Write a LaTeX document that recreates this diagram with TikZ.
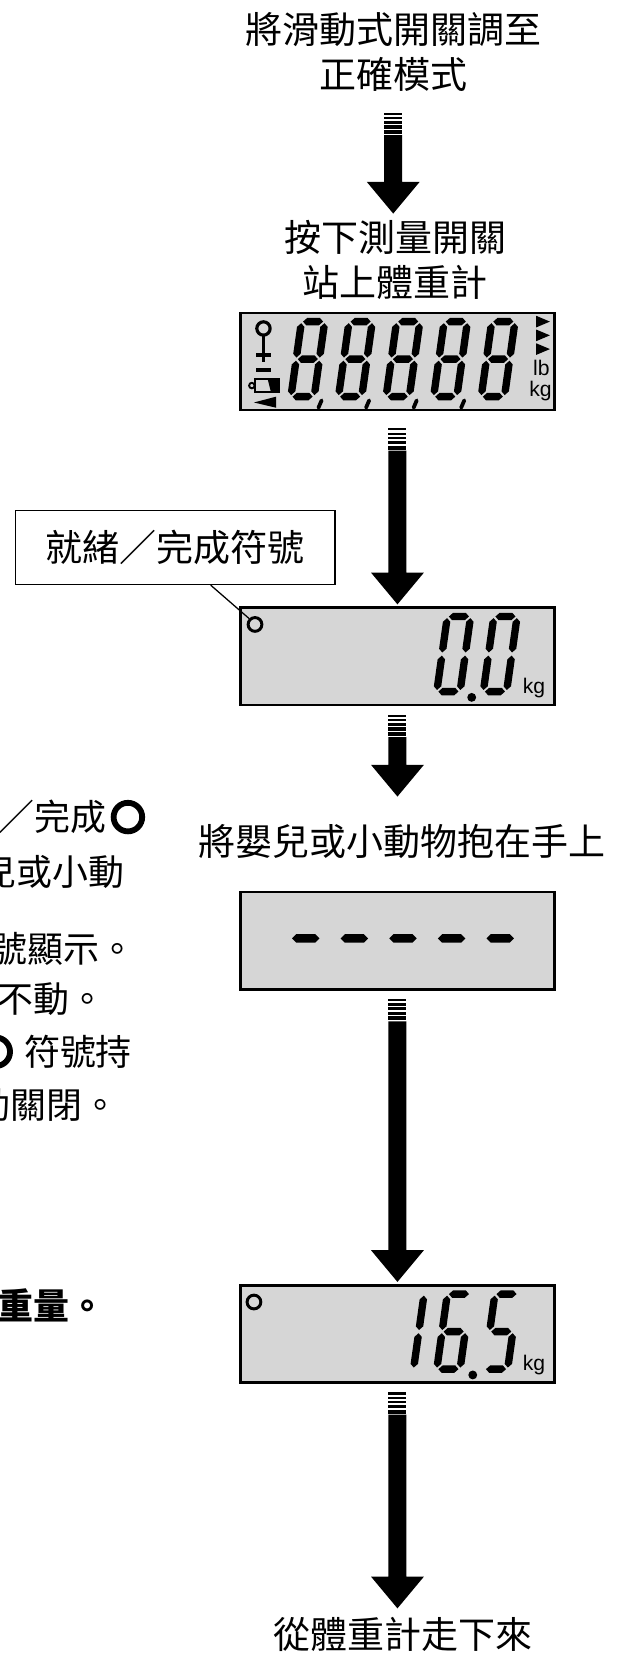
\documentclass[tikz,border=0pt]{standalone}
\usepackage{fontspec}
\newfontfamily\cjk{Noto Sans CJK TC}
\newfontfamily\lcdfont{Liberation Sans}
\usetikzlibrary{calc}
\definecolor{lcdgray}{RGB}{214,214,214}

% seven segment pieces, local units with y upwards
\newcommand\hseg[3]{\fill (#1,#3) -- ({#1+3.5},{#3+3.5}) -- ({#2-3.5},{#3+3.5}) -- (#2,#3) -- ({#2-3.5},{#3-3.5}) -- ({#1+3.5},{#3-3.5}) -- cycle;}
\newcommand\vseg[3]{\fill (#1,#2) -- ({#1+3.5},{#2+3.5}) -- ({#1+3.5},{#3-3.5}) -- (#1,#3) -- ({#1-3.5},{#3-3.5}) -- ({#1-3.5},{#2+3.5}) -- cycle;}
\newcommand\sgA{\hseg{5}{24}{74.5}}
\newcommand\sgB{\vseg{25.5}{40.5}{73}}
\newcommand\sgC{\vseg{25.5}{5}{37.5}}
\newcommand\sgD{\hseg{5}{24}{3.5}}
\newcommand\sgE{\vseg{3.5}{5}{37.5}}
\newcommand\sgF{\vseg{3.5}{40.5}{73}}
\newcommand\sgG{\hseg{5}{24}{39}}
\newcommand\lcddigit[3]{%
  \begin{scope}[shift={(#1,#2)},x=1pt,y=1pt,xslant=0.14]
    \foreach \s in {#3} {\csname sg\s\endcsname}
  \end{scope}}

% thick arrow with striped tail
\newcommand\flowarrow[2]{%
  \path[fill=black] let \p1=#1, \p2=#2 in
    (\x1-8.5pt,\y1-21pt) rectangle (\x1+8.5pt,\y2+30pt)
    (\x1-25pt,\y2+30pt) -- (\x1,\y2) -- (\x1+25pt,\y2+30pt) -- cycle;
  \foreach \a/\b in {0/2,4/6,7.8/10.3,11.8/15,16.3/20}
    {\path[fill=black] let \p1=#1 in (\x1-8.5pt,\y1-\a*1pt) rectangle (\x1+8.5pt,\y1-\b*1pt);}}

\tikzset{
  lcdbox/.style={draw=black, line width=2.5pt, fill=lcdgray, minimum width=297pt, minimum height=92pt, inner sep=0pt},
  caption/.style={font=\cjk\fontsize{35}{43}\selectfont, align=center, inner sep=0pt},
  labelbox/.style={draw=black, line width=1.2pt, minimum width=302pt, minimum height=70pt, inner sep=0pt, font=\cjk\fontsize{35}{40}\selectfont},
  sidenote/.style={font=\cjk\fontsize{34}{40}\selectfont, inner sep=0pt, anchor=east},
  bigring/.style={circle, draw=black, line width=5.5pt, minimum size=27pt, inner sep=0pt},
  dotring/.style={circle, draw=black, line width=2.8pt, minimum size=13pt, inner sep=0pt},
  unit/.style={font=\lcdfont\fontsize{20}{20}\selectfont, inner sep=0pt},
}

\begin{document}
\begin{tikzpicture}[x=1pt,y=-1pt]
  \useasboundingbox (0,0) rectangle (584.7,1565.7);

  % right column
  \node[caption] (title) at (372,49) {將滑動式開關調至\\正確模式};
  \node[caption] (press) at (374,246) {按下測量開關\\站上體重計};
  \node[lcdbox] (lcdall) at (376,342) {};
  \node[labelbox] (label) at (166,518) {就緒／完成符號};
  \node[lcdbox] (lcdzero) at (376,621) {};
  \node[caption] (hold) at (380,796) {將嬰兒或小動物抱在手上};
  \node[lcdbox] (lcdwait) at (376,890) {};
  \node[lcdbox] (lcdweight) at (376,1262) {};
  \node[caption] (stepoff) at (381,1546) {從體重計走下來};

  % all segments
  \begin{scope}[shift={(lcdall.north west)}]
    \draw[line width=3] (23,16) circle (6.3);
    \draw[line width=3] (23,22) -- (23,48);
    \draw[line width=3.8] (16,41) -- (30,41);
    \draw[line width=3.8] (16,55) -- (30,55);
    \draw[line width=2.4] (15,64) rectangle (37,76);
    \fill (27,64) -- (37,64) -- (37,76) -- (30,76) -- cycle;
    \draw[line width=1.8] (12,70) circle (2.6);
    \fill (14,86) -- (35,80.5) -- (35,91) -- cycle;
    \foreach \d in {0,...,4} {\lcddigit{45+45*\d}{84}{A,B,C,D,E,F,G}}
    \foreach \d in {0,...,3} {\draw[line width=3.6, line cap=round] (78+45*\d,84) -- (75+45*\d,91);}
    \foreach \t in {4,17,30} {\fill (281,\t) -- (294,\t+5.5) -- (281,\t+11) -- cycle;}
    \node[unit] (lb) at (286,53) {lb};
    \node[unit] (kgall) at (285,75) {kg};
  \end{scope}

  % ready
  \begin{scope}[shift={(lcdzero.north west)}]
    \node[dotring] (zeroring) at (15,17) {};
    \lcddigit{183}{84}{A,B,C,D,E,F}
    \lcddigit{227}{84}{A,B,C,D,E,F}
    \fill (220,86) circle (4.2);
    \node[unit, anchor=base] (kgzero) at (279,82) {kg};
  \end{scope}
  \draw[line width=1.2] ($(label.south west)!0.61!(label.south east)$) -- (zeroring.north west);

  % waiting
  \begin{scope}[shift={(lcdwait.north west)}]
    \foreach \d in {0,...,4} {\fill (50+46*\d,45) -- ++(4,-4) -- ++(18,0) -- ++(4,4) -- ++(-4,4) -- ++(-18,0) -- cycle;}
  \end{scope}

  % result
  \begin{scope}[shift={(lcdweight.north west)}]
    \node[dotring] (weightring) at (14,17) {};
    \lcddigit{139}{84}{B,C}
    \lcddigit{183}{84}{A,C,D,E,F,G}
    \lcddigit{228}{84}{A,C,D,F,G}
    \fill (221,86) circle (4.2);
    \node[unit, anchor=base] (kgweight) at (279,82) {kg};
  \end{scope}

  \flowarrow{($(title.south)+(0,20)$)}{($(press.north)+(0,-6)$)}
  \flowarrow{($(lcdall.south)+(0,16)$)}{($(lcdzero.north)+(0,-2)$)}
  \flowarrow{($(lcdzero.south)+(0,8)$)}{($(hold.north)+(0,-26)$)}
  \flowarrow{($(lcdwait.south)+(0,8)$)}{($(lcdweight.north)+(0,-2)$)}
  \flowarrow{($(lcdweight.south)+(0,8)$)}{($(stepoff.north)+(0,-8)$)}

  % cut-off note on the left
  \node[sidenote] (note1) at (101,773) {／完成};
  \node[bigring] (ring1) at (121,773) {};
  \node[sidenote] (note2) at (118,825) {兒或小動};
  \node[sidenote] (note3) at (128,898) {號顯示。};
  \node[sidenote] (note4) at (100,945) {不動。};
  \node[bigring] (ring2) at (-4,995) {};
  \node[sidenote] (note5) at (125,995) {符號持};
  \node[sidenote] (note6) at (112,1045) {動關閉。};
  \node[sidenote, font=\cjk\bfseries\fontsize{34}{40}\selectfont] (note7) at (100,1235) {重量。};
\end{tikzpicture}
\end{document}
